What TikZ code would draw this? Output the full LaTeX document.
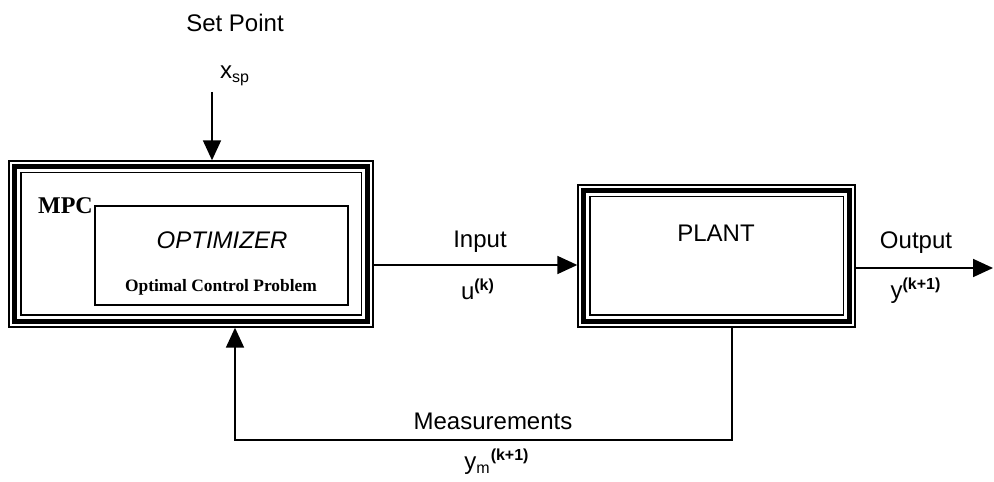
\documentclass[tikz,border=0pt]{standalone}
\usepackage{fontspec}
\setmainfont{Liberation Sans}
\newfontfamily\timesbold{Liberation Serif}
\usetikzlibrary{arrows.meta,positioning}

% thick line and thin line inside a framed block
\newcommand{\innerframes}[1]{%
  \draw[line width=2.5pt] ([shift={(6.5,-6.5)}]#1.north west) rectangle ([shift={(-6.5,6.5)}]#1.south east);
  \draw[line width=0.7pt] ([shift={(12.5,-12.5)}]#1.north west) rectangle ([shift={(-12.5,12.5)}]#1.south east);}

\begin{document}
\begin{tikzpicture}[x=0.5pt, y=0.5pt,
    % node attributes
    every node/.style = {inner sep=0pt, font=\fontsize{12}{14}\selectfont},
    block/.style = {draw, line width=0.7pt, minimum width=#1},
    optbox/.style = {draw, line width=1.2pt},
    serif/.style = {font=\fontsize{12}{14}\selectfont\timesbold\bfseries},
    flow/.style = {line width=0.9pt, -{Triangle[length=10pt,width=9pt]}}]
    \useasboundingbox (0,0) rectangle (994,481);

    % controller block
    \node[block=182pt, minimum height=83pt] (mpc) at (191,237) {};
    \innerframes{mpc}
    \node[optbox, minimum width=126.5pt, minimum height=49.5pt] (opt) at (221.5,225.5) {};
    \node[serif] (mpclabel) at (65.5,275) {MPC};
    \node[font=\fontsize{12}{14}\selectfont\itshape] (optlabel) at (222,241) {OPTIMIZER};
    \node[serif, font=\fontsize{8.7}{10}\selectfont\timesbold\bfseries] (ocp) at (221,194) {Optimal Control Problem};

    % plant block
    \node[block=138.5pt, minimum height=71pt] (plant) at (716.5,225) {};
    \innerframes{plant}
    \node (plantlabel) at (716,248) {PLANT};

    % set point
    \node (setpoint) at (235,458) {Set Point};
    \node (xsp) at (235,405) {x\textsubscript{sp}};
    \coordinate (spin) at (212,389);
    \draw[flow] (spin) -- (spin |- mpc.north);

    % input
    \draw[flow] (mpc.east) ++(0,-21) coordinate (u0) -- (u0 -| plant.west);
    \node (input) at (480,239) {Input};
    \node (uk) at (478,192) {u\textsuperscript{\bfseries(k)}};

    % output
    \coordinate (out) at (993,213);
    \draw[flow] (out -| plant.east) -- (out);
    \node (output) at (916,238) {Output};
    \node (yk) at (916,190) {y\textsuperscript{\bfseries(k+1)}};

    % measurements fed back
    \coordinate (fb) at (235,41);
    \draw[flow] (plant.south) ++(15.5,0) coordinate (m0) |- (fb) -- (fb |- mpc.south);
    \node (meas) at (493,60) {Measurements};
    \node (ym) at (497,19) {y\textsubscript{m}\textsuperscript{\bfseries(k+1)}};
\end{tikzpicture}
\end{document}
